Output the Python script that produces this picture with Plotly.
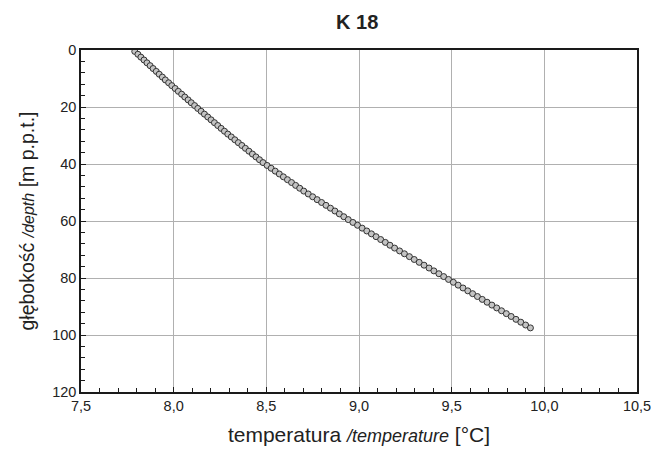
import plotly.graph_objects as go

depth = [0.5, 1.5, 2.5, 3.5, 4.5, 5.5, 6.5, 7.5, 8.5, 9.5,
         10.5, 11.5, 12.5, 13.5, 14.5, 15.5, 16.5, 17.5, 18.5, 19.5,
         20.5, 21.5, 22.5, 23.5, 24.5, 25.5, 26.5, 27.5, 28.5, 29.5,
         30.5, 31.5, 32.5, 33.5, 34.5, 35.5, 36.5, 37.5, 38.5, 39.5,
         40.5, 41.5, 42.5, 43.5, 44.5, 45.5, 46.5, 47.5, 48.5, 49.5,
         50.5, 51.5, 52.5, 53.5, 54.5, 55.5, 56.5, 57.5, 58.5, 59.5,
         60.5, 61.5, 62.5, 63.5, 64.5, 65.5, 66.5, 67.5, 68.5, 69.5,
         70.5, 71.5, 72.5, 73.5, 74.5, 75.5, 76.5, 77.5, 78.5, 79.5,
         80.5, 81.5, 82.5, 83.5, 84.5, 85.5, 86.5, 87.5, 88.5, 89.5,
         90.5, 91.5, 92.5, 93.5, 94.5, 95.5, 96.5, 97.5]

temperature = [7.790, 7.807, 7.823, 7.840, 7.856, 7.873, 7.889, 7.906, 7.922, 7.939,
               7.955, 7.973, 7.990, 8.008, 8.025, 8.043, 8.060, 8.078, 8.095, 8.113,
               8.130, 8.148, 8.166, 8.184, 8.202, 8.220, 8.238, 8.256, 8.274, 8.292,
               8.311, 8.330, 8.349, 8.368, 8.387, 8.406, 8.425, 8.444, 8.463, 8.482,
               8.504, 8.526, 8.548, 8.570, 8.592, 8.614, 8.636, 8.658, 8.680, 8.702,
               8.726, 8.750, 8.774, 8.798, 8.822, 8.846, 8.870, 8.894, 8.918, 8.942,
               8.967, 8.992, 9.017, 9.042, 9.067, 9.092, 9.117, 9.142, 9.167, 9.192,
               9.219, 9.245, 9.272, 9.298, 9.325, 9.351, 9.378, 9.404, 9.431, 9.457,
               9.483, 9.509, 9.535, 9.561, 9.587, 9.613, 9.639, 9.665, 9.691, 9.717,
               9.743, 9.769, 9.795, 9.821, 9.847, 9.873, 9.899, 9.925]

x_tickvals = [7.5, 8.0, 8.5, 9.0, 9.5, 10.0, 10.5]
x_ticktext = ["7,5", "8,0", "8,5", "9,0", "9,5", "10,0", "10,5"]
y_tickvals = [0, 20, 40, 60, 80, 100, 120]
y_ticktext = ["0", "20", "40", "60", "80", "100", "120"]

FONT = "Liberation Sans, Arial, sans-serif"

fig = go.Figure()
fig.add_trace(go.Scatter(
    x=temperature, y=depth, mode="markers",
    marker=dict(symbol="circle", size=6, color="#c4c4c4",
                line=dict(color="#333333", width=1)),
    showlegend=False, hoverinfo="x+y",
))

fig.update_layout(
    width=653, height=455,
    margin=dict(l=81, r=16, t=50, b=63, autoexpand=False),
    paper_bgcolor="white", plot_bgcolor="white",
    font=dict(family=FONT, color="#222222", size=15),
    title=dict(text="<b>K 18</b>", x=0.547, xanchor="center", y=0.952, yanchor="middle",
               font=dict(size=20, family=FONT, color="#222222")),
)

fig.update_xaxes(
    range=[7.5, 10.5], tickmode="array", tickvals=x_tickvals, ticktext=x_ticktext,
    showgrid=True, gridcolor="#b0b0b0", gridwidth=1,
    showline=True, linecolor="#1a1a1a", linewidth=1.5, mirror=True,
    ticks="inside", ticklen=5, tickcolor="#1a1a1a", tickwidth=1,
    minor=dict(tickmode="linear", tick0=7.5, dtick=0.1, ticks="inside", ticklen=4,
               tickcolor="#1a1a1a", tickwidth=1, showgrid=False),
    tickfont=dict(size=14.5, family=FONT, color="#222222"),
    ticklabeloverflow="allow",
    zeroline=False, automargin=False,
    title=dict(text="temperatura <span style='font-size:18px'><i>/temperature</i></span> [°C]",
               font=dict(size=21, family=FONT, color="#222222"), standoff=14),
)

fig.update_yaxes(
    range=[120, 0], tickmode="array", tickvals=y_tickvals, ticktext=y_ticktext,
    showgrid=True, gridcolor="#b0b0b0", gridwidth=1,
    showline=True, linecolor="#1a1a1a", linewidth=1.5, mirror=True,
    ticks="inside", ticklen=5, tickcolor="#1a1a1a", tickwidth=1,
    minor=dict(tickmode="linear", tick0=0, dtick=4, ticks="inside", ticklen=4,
               tickcolor="#1a1a1a", tickwidth=1, showgrid=False),
    tickfont=dict(size=14.5, family=FONT, color="#222222"),
    ticklabeloverflow="allow",
    zeroline=False, automargin=False,
    title=dict(text="głębokość <span style='font-size:16px'><i>/depth</i></span> [m p.p.t.]",
               font=dict(size=19.5, family=FONT, color="#222222"), standoff=12),
)

fig.write_html(
    "out.html",
    config={"displayModeBar": False},
    post_script="document.body.style.margin='0px';document.body.style.overflow='hidden';",
)
